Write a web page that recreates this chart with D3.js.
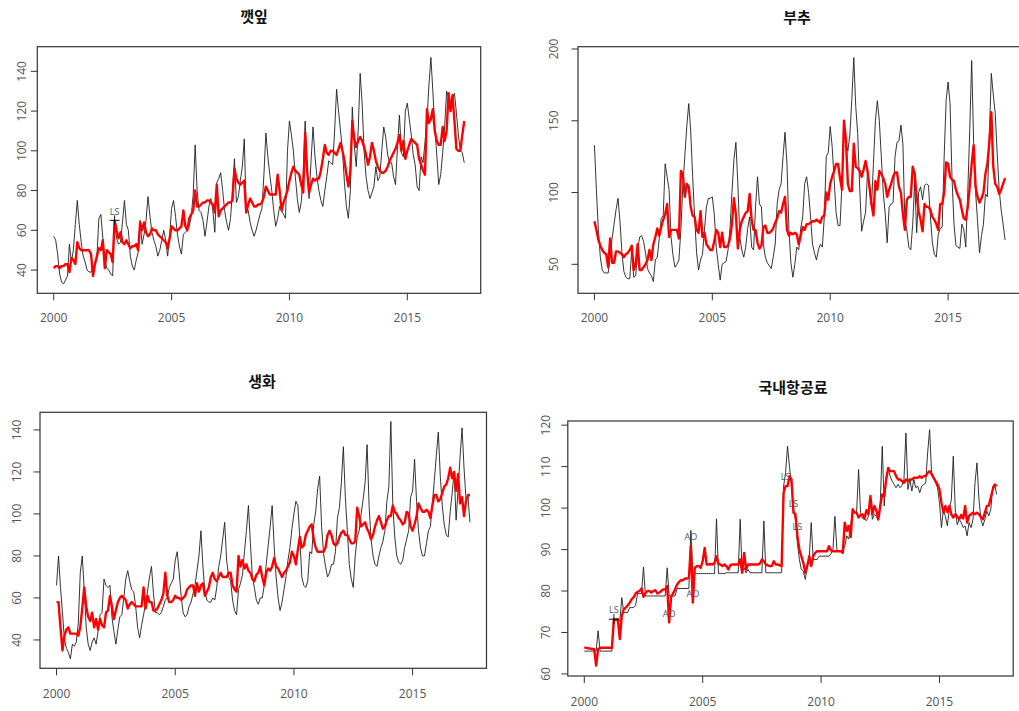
<!DOCTYPE html>
<html>
<head>
<meta charset="utf-8">
<script src="https://cdn.jsdelivr.net/npm/d3@7"></script>
<style>
  body { margin: 0; background: #fff; }
  svg text { font-family: "Open Sans", "Noto Sans", sans-serif; }
</style>
</head>
<body>
<svg id="chart" width="1019" height="711"></svg>
<script>
// Monthly series, January 2000 – June 2017 (one row per year).
const perillaRaw = [
  57, 55, 48, 38, 34, 33, 35, 37, 53, 44, 50, 63,
  75, 63, 54, 47, 44, 40, 39, 39, 41, 43, 47, 66,
  68, 56, 45, 41, 40, 38, 37, 65, 56, 53, 54, 64,
  75, 63, 60, 47, 42, 40, 45, 49, 65, 53, 58, 65,
  77, 67, 59, 55, 52, 47, 50, 55, 60, 55, 47, 57,
  71, 75, 67, 58, 52, 48, 58, 59, 60, 62, 67, 78,
  103, 80, 70, 69, 65, 57, 64, 72, 76, 70, 59, 84,
  86, 89, 80, 70, 64, 60, 66, 80, 96, 74, 77, 85,
  92, 106, 69, 70, 64, 60, 57, 60, 64, 68, 71, 88,
  109, 97, 88, 80, 70, 62, 66, 72, 70, 68, 66, 100,
  115, 108, 100, 87, 76, 69, 74, 88, 115, 90, 76, 95,
  112, 97, 87, 80, 75, 72, 80, 87, 95, 94, 93, 110,
  131, 120, 110, 100, 84, 72, 66, 80, 122, 103, 92, 110,
  139, 124, 100, 87, 80, 76, 79, 82, 92, 85, 87, 100,
  112, 107, 98, 94, 94, 87, 83, 102, 118, 99, 97, 120,
  124, 116, 108, 98, 93, 82, 80, 97, 94, 104, 115, 133,
  147, 130, 112, 98, 83, 88, 99, 112, 130, 127, 122, 126,
  129, 119, 108, 100, 99, 94
];
const perillaAdj = [
  41, 42, 42, 41, 42, 42, 43, 43, 39, 46, 45, 43,
  54, 51, 50, 50, 50, 50, 50, 48, 37, 43, 47, 51,
  50, 55, 41, 50, 49, 48, 44, 65, 60, 56, 59, 54,
  53, 55, 53, 51, 52, 52, 53, 50, 64, 60, 64, 59,
  57, 58, 61, 60, 60, 58, 57, 56, 55, 54, 51, 56,
  62, 61, 60, 60, 61, 62, 70, 62, 60, 66, 68, 70,
  80, 72, 72, 73, 74, 74, 75, 75, 74, 73, 69, 83,
  67, 70, 71, 72, 73, 74, 74, 75, 91, 86, 84, 83,
  84, 85, 69, 73, 76, 74, 72, 72, 73, 73, 74, 77,
  82, 80, 78, 78, 78, 78, 88, 80, 70, 74, 77, 80,
  85, 89, 92, 90, 89, 88, 83, 79, 109, 90, 79, 83,
  86, 85, 86, 86, 90, 96, 103, 99, 98, 100, 100, 99,
  98, 101, 104, 100, 95, 88, 82, 90, 115, 106, 102, 105,
  107, 105, 102, 98, 93, 97, 104, 100, 95, 92, 90, 89,
  89, 90, 92, 95, 97, 99, 101, 104, 108, 100, 105, 96,
  100, 103, 106, 105, 104, 103, 96, 93, 90, 88, 121, 114,
  116, 121, 110, 105, 103, 103, 112, 105, 110, 129, 120, 128,
  115, 101, 100, 100, 108, 115
];

const chivesRaw = [
  133, 102, 74, 55, 46, 44, 44, 44, 55, 68, 78, 88,
  96, 80, 58, 45, 41, 40, 40, 60, 41, 42, 60, 69,
  70, 66, 58, 47, 44, 42, 38, 53, 55, 68, 82, 84,
  120, 111, 102, 69, 56, 48, 50, 53, 74, 105, 125, 146,
  162, 143, 111, 83, 58, 46, 53, 57, 74, 90, 96, 96,
  97, 85, 62, 50, 39, 50, 51, 52, 60, 75, 100, 123,
  135, 106, 69, 60, 55, 62, 75, 83, 62, 60, 90, 111,
  92, 90, 64, 55, 51, 49, 47, 55, 64, 92, 102, 106,
  125, 142, 120, 74, 51, 41, 50, 62, 60, 75, 83, 106,
  111, 100, 83, 64, 58, 53, 60, 64, 62, 83, 125, 128,
  146, 132, 109, 86, 77, 77, 106, 147, 135, 129, 140, 165,
  194, 160, 141, 104, 73, 80, 86, 115, 102, 90, 120, 150,
  164, 150, 125, 100, 85, 65, 90, 92, 93, 125, 135, 136,
  147, 134, 80, 74, 62, 60, 78, 108, 72, 100, 104, 95,
  105, 106, 105, 83, 65, 57, 55, 71, 75, 76, 125, 164,
  177, 162, 110, 78, 63, 62, 61, 78, 74, 62, 100, 143,
  192, 135, 100, 80, 58, 70, 78, 99, 97, 140, 183, 168,
  155, 127, 102, 88, 78, 67
];
const chivesAdj = [
  80, 74, 67, 63, 60, 58, 57, 48, 68, 51, 51, 59,
  59, 58, 57, 55, 57, 58, 60, 63, 46, 50, 64, 46,
  46, 48, 50, 53, 60, 53, 64, 69, 75, 70, 76, 81,
  85, 92, 69, 74, 74, 74, 74, 68, 115, 113, 97, 106,
  104, 90, 84, 83, 74, 72, 87, 69, 72, 64, 62, 60,
  60, 66, 74, 72, 62, 72, 62, 62, 63, 68, 78, 96,
  85, 61, 74, 80, 83, 86, 87, 99, 81, 74, 74, 65,
  61, 63, 76, 77, 72, 72, 73, 75, 79, 82, 87, 86,
  92, 97, 74, 70, 72, 71, 72, 71, 64, 70, 76, 74,
  78, 78, 79, 80, 80, 81, 80, 79, 83, 84, 100, 95,
  106, 111, 115, 120, 120, 110, 102, 150, 137, 106, 101, 101,
  134, 118, 117, 115, 111, 116, 122, 115, 104, 92, 84, 108,
  102, 115, 113, 110, 106, 97, 102, 106, 111, 114, 114, 104,
  100, 85, 74, 95, 97, 97, 118, 113, 97, 87, 81, 73,
  92, 90, 90, 88, 83, 81, 78, 74, 92, 92, 100, 121,
  120, 111, 109, 108, 102, 98, 95, 88, 82, 81, 90, 104,
  120, 133, 104, 97, 93, 96, 100, 113, 120, 135, 156, 118,
  106, 104, 99, 102, 106, 110
];

const flowersRaw = [
  66, 80, 65, 53, 40, 36, 34, 31, 38, 37, 39, 48,
  72, 80, 64, 46, 38, 35, 39, 41, 38, 44, 52, 53,
  69, 66, 65, 66, 51, 44, 38, 45, 51, 52, 60, 69,
  73, 68, 64, 63, 56, 46, 41, 47, 52, 57, 63, 70,
  75, 62, 53, 53, 52, 53, 56, 59, 60, 65, 67, 69,
  78, 82, 72, 61, 53, 51, 52, 56, 58, 62, 66, 73,
  80, 92, 75, 63, 59, 58, 58, 60, 59, 65, 75, 80,
  88, 96, 78, 70, 68, 59, 54, 52, 64, 67, 71, 82,
  92, 104, 86, 70, 65, 59, 57, 60, 60, 66, 76, 85,
  94, 104, 85, 70, 60, 54, 58, 64, 70, 78, 84, 93,
  100, 106, 104, 88, 70, 66, 65, 68, 82, 81, 95, 101,
  112, 118, 94, 81, 75, 70, 72, 76, 76, 82, 98, 103,
  115, 132, 108, 92, 76, 69, 65, 80, 89, 92, 100, 107,
  115, 133, 104, 88, 80, 76, 75, 80, 84, 87, 92, 106,
  113, 144, 104, 89, 80, 77, 76, 78, 84, 88, 92, 108,
  111, 126, 106, 92, 84, 80, 80, 86, 92, 94, 105, 116,
  128, 139, 118, 104, 95, 90, 89, 101, 110, 120, 97, 112,
  127, 141, 122, 107, 108, 96
];
const flowersAdj = [
  58, 58, 46, 35, 42, 45, 46, 43, 43, 43, 43, 42,
  46, 55, 65, 56, 51, 49, 53, 46, 50, 45, 50, 47,
  46, 53, 54, 61, 56, 50, 54, 58, 60, 61, 60, 59,
  55, 57, 58, 57, 56, 56, 56, 56, 65, 55, 61, 58,
  58, 54, 54, 55, 57, 59, 62, 72, 61, 58, 58, 59,
  61, 60, 60, 59, 60, 61, 64, 65, 66, 66, 61, 67,
  63, 66, 67, 61, 63, 65, 70, 72, 69, 68, 70, 72,
  70, 70, 70, 72, 72, 66, 64, 63, 80, 75, 78, 74,
  76, 73, 72, 69, 68, 71, 72, 75, 70, 66, 72, 74,
  73, 75, 79, 75, 74, 72, 70, 72, 73, 75, 77, 82,
  80, 76, 83, 89, 84, 85, 90, 92, 94, 95, 88, 84,
  82, 82, 82, 82, 84, 90, 92, 90, 86, 85, 86, 89,
  91, 92, 90, 90, 88, 86, 86, 87, 103, 99, 94, 95,
  96, 93, 91, 88, 90, 94, 97, 99, 96, 93, 94, 97,
  99, 99, 104, 101, 100, 98, 97, 95, 96, 101, 100, 94,
  92, 95, 99, 105, 103, 101, 101, 102, 101, 98, 104, 109,
  109, 106, 107, 110, 113, 114, 117, 122, 117, 120, 111, 119,
  105, 108, 99, 106, 109, 109
];

const airfareRaw = [
  65.5, 65.5, 65.5, 65.5, 65.5, 65.5, 65.5, 70.4, 65.5, 65.5, 65.5, 65.5,
  65.5, 65.5, 65.5, 73.2, 73.2, 73.2, 72.8, 78.4, 74.8, 74.8, 74.8, 76,
  76, 76, 76.5, 79.4, 79.4, 79.4, 85.8, 78.8, 78.8, 78.8, 78.8, 78.8,
  78.8, 78.8, 78.8, 78.8, 78.8, 78.8, 85.6, 78.8, 78.8, 78.8, 78.8, 80.6,
  80.6, 80.6, 80.6, 80.6, 80.6, 80.6, 94.6, 84.2, 84.2, 84.2, 84.2, 84.2,
  84.2, 84.2, 84.2, 84.2, 84.2, 84.2, 84.2, 97.4, 84.2, 84.2, 84.2, 84.2,
  84.4, 84.4, 84.4, 84.4, 84.4, 84.4, 84.4, 97.3, 84.4, 85.6, 84.4, 85.2,
  84.4, 84.4, 84.4, 84.4, 84.4, 84.4, 84.4, 96.9, 84.4, 84.4, 84.4, 84.4,
  84.4, 84.4, 84.4, 84.4, 84.4, 105.3, 108.5, 114.9, 110, 105.3, 99.7, 97.3,
  91.6, 87.6, 85.2, 84.8, 82.8, 86, 88, 96.5, 87.6, 87.6, 87.6, 88.4,
  88.4, 88.4, 88.4, 88.4, 88.4, 89, 90, 98, 90, 89.6, 89.6, 89.6,
  90.8, 93.3, 92.5, 95.7, 99.7, 99, 98.9, 109.3, 98.9, 97.5, 97.3, 97,
  98, 102.1, 97.3, 98.5, 98, 97, 101.3, 114.9, 100.5, 107.7, 109.3, 107.7,
  106.5, 105.7, 104.9, 105.7, 104.9, 105.5, 106.9, 118.1, 104.5, 106.9, 104.1, 106.9,
  104.9, 105.3, 103.7, 105.3, 105.7, 106, 113.3, 118.9, 108.5, 107.7, 106.1, 104.9,
  101.3, 95.3, 99.7, 98, 95.7, 99.7, 102, 112.5, 99.7, 96, 97.3, 96.5,
  95.3, 95.7, 93.3, 96.5, 95.3, 97.3, 106.1, 110.9, 102.1, 97.3, 95.7, 97.3,
  99.3, 98.1, 99.7, 105.3, 105.7, 103.3
];
const airfareAdj = [
  66.4, 66.3, 66.2, 66.1, 66, 66, 62, 66, 66.3, 66.3, 66.3, 66.3,
  66.3, 66.3, 66.3, 73.2, 73, 73.2, 68.4, 74, 75.6, 76, 76.5, 77.2,
  78, 78.5, 79.4, 79.8, 80, 80.6, 78.6, 79.5, 80, 80, 79.6, 80,
  80.2, 79.4, 79.6, 80, 80.4, 80.4, 81.2, 72.4, 78.6, 79.4, 80.4, 81.5,
  82.2, 82.6, 82.6, 83, 83, 83.2, 90.8, 77.2, 85.6, 86, 86, 85.6,
  87.2, 90.4, 86.4, 86.4, 86.5, 86.4, 86.8, 88.4, 86.5, 86.4, 86, 86.4,
  86, 85.2, 86.2, 86.4, 86.4, 86.4, 86.4, 87.6, 84.4, 89.2, 85.2, 86.4,
  86.4, 86.4, 86.4, 86.4, 86.4, 86.6, 87.6, 87.2, 86.4, 86.2, 86, 86,
  87.2, 86.4, 86.4, 86.2, 86, 103.7, 105.3, 105.3, 107.7, 106.9, 98.9, 98.5,
  93.3, 90, 88.4, 86.8, 84.4, 86, 88.4, 86, 88.4, 89.2, 89.6, 89.6,
  89.6, 89.6, 89.6, 89.6, 90.8, 89.8, 89.6, 89.6, 89.6, 89.6, 89.6, 89.2,
  96.5, 94.5, 95.7, 93, 99.7, 98.9, 98.9, 97.7, 98.3, 98.5, 97.5, 99.5,
  98.5, 102.9, 98.5, 100.5, 99.5, 97.3, 100.5, 103.3, 102.9, 106.9, 109.7, 108.9,
  108.9, 108.9, 107.7, 106.9, 106.9, 106.5, 106.1, 106.9, 106.5, 106.9, 106.9, 107.3,
  107.3, 107.3, 107.7, 107.3, 107.7, 107.7, 108.5, 108.9, 108.2, 107.3, 106.5, 105.7,
  104.5, 101.3, 98.9, 100.5, 99, 100.5, 98.5, 97.7, 98.5, 98, 97.3, 98.3,
  97.5, 100.5, 96.5, 98.1, 98.5, 98.9, 98.5, 98.9, 98.5, 97.8, 97.3, 98.9,
  100.5, 100.6, 102.5, 104.5, 105.7, 105.3
];

// Outliers found by the seasonal adjustment (month index from Jan 2000).
const perillaOutliers = [{ month: 31, type: "LS", cross: true }];
const airfareOutliers = [
  { month: 15, type: "LS", cross: true },
  { month: 43, type: "AO" },
  { month: 54, type: "AO" },
  { month: 55, type: "AO" },
  { month: 102, type: "LS" },
  { month: 106, type: "LS" },
  { month: 108, type: "LS" }
];

const xTicks = [2000, 2005, 2010, 2015];
const perillaTicks = [40, 60, 80, 100, 120, 140];
const chivesTicks = [50, 100, 150, 200];
const flowersTicks = [40, 60, 80, 100, 120, 140];
const airfareTicks = [60, 70, 80, 90, 100, 110, 120];

const startYear = 2000;
const lastMonth = perillaRaw.length - 1;
const span = lastMonth / 12;
const xDomain = [startYear - 0.04 * span, startYear + span + 0.04 * span];

// Plot regions (pixels) and value ranges for the 2x2 layout.
const panels = [
  { title: "깻잎", raw: perillaRaw, adj: perillaAdj, ticks: perillaTicks, outliers: perillaOutliers,
    yDomain: [28.3, 152.4], box: { l: 37.3, r: 480.7, t: 46.7, b: 293.3 },
    titleX: 254, titleY: 17, yLabGap: 15.6, xLabGap: 24 },
  { title: "부추", raw: chivesRaw, adj: chivesAdj, ticks: chivesTicks, outliers: [],
    yDomain: [29.8, 201.6], box: { l: 578, r: 1021.5, t: 46.7, b: 293.3 },
    titleX: 797, titleY: 18, yLabGap: 24, xLabGap: 24 },
  { title: "생화", raw: flowersRaw, adj: flowersAdj, ticks: flowersTicks, outliers: [],
    yDomain: [26.5, 148.4], box: { l: 40, r: 486.5, t: 412.3, b: 668.3 },
    titleX: 262, titleY: 382, yLabGap: 23, xLabGap: 25.7 },
  { title: "국내항공료", raw: airfareRaw, adj: airfareAdj, ticks: airfareTicks, outliers: airfareOutliers,
    yDomain: [59.5, 121], box: { l: 567.8, r: 1013.2, t: 421, b: 676 },
    titleX: 793, titleY: 388, yLabGap: 22, xLabGap: 25.7 }
];

const svg = d3.select("#chart");
const axisColor = "#333";
const labelColor = "#555";

panels.forEach(p => {
  const g = svg.append("g");
  const x = d3.scaleLinear().domain(xDomain).range([p.box.l, p.box.r]);
  const y = d3.scaleLinear().domain(p.yDomain).range([p.box.b, p.box.t]);
  const tx = i => x(startYear + i / 12);

  // title
  g.append("text")
    .attr("x", p.titleX).attr("y", p.titleY).attr("dy", "0.35em")
    .attr("text-anchor", "middle")
    .style("font-family", "'Noto Sans CJK KR', sans-serif")
    .style("font-weight", 700).style("font-size", "15px").attr("fill", "#111")
    .text(p.title);

  // x axis ticks and labels
  const xa = g.append("g");
  xa.selectAll("line").data(xTicks).join("line")
    .attr("x1", d => x(d)).attr("x2", d => x(d))
    .attr("y1", p.box.b).attr("y2", p.box.b + 7)
    .attr("stroke", axisColor).attr("stroke-width", 1);
  xa.selectAll("text").data(xTicks).join("text")
    .attr("x", d => x(d)).attr("y", p.box.b + p.xLabGap).attr("dy", "0.35em")
    .attr("text-anchor", "middle").attr("fill", labelColor).style("font-size", "12px")
    .text(d => d);

  // y axis ticks and rotated labels
  const ya = g.append("g");
  ya.selectAll("line").data(p.ticks).join("line")
    .attr("x1", p.box.l - 6.5).attr("x2", p.box.l)
    .attr("y1", d => y(d)).attr("y2", d => y(d))
    .attr("stroke", axisColor).attr("stroke-width", 1);
  ya.selectAll("text").data(p.ticks).join("text")
    .attr("transform", d => `translate(${p.box.l - p.yLabGap},${y(d)}) rotate(-90)`)
    .attr("dy", "0.35em").attr("text-anchor", "middle")
    .attr("fill", labelColor).style("font-size", "12px")
    .text(d => d);

  // frame
  g.append("rect")
    .attr("x", p.box.l).attr("y", p.box.t)
    .attr("width", p.box.r - p.box.l).attr("height", p.box.b - p.box.t)
    .attr("fill", "none").attr("stroke", axisColor).attr("stroke-width", 1.2);

  const line = d3.line().x((d, i) => tx(i)).y(d => y(d));

  // original series
  g.append("path").datum(p.raw).attr("d", line)
    .attr("fill", "none").attr("stroke", "#1e1e1e").attr("stroke-width", 0.9)
    .attr("stroke-linejoin", "round");

  // seasonally adjusted series
  g.append("path").datum(p.adj).attr("d", line)
    .attr("fill", "none").attr("stroke", "#ff0000").attr("stroke-width", 2.4)
    .attr("stroke-linejoin", "round");

  // outlier markers
  p.outliers.forEach(o => {
    const px = tx(o.month), py = y(p.adj[o.month]);
    if (o.cross) {
      g.append("path")
        .attr("d", `M${px - 5},${py}H${px + 5}M${px},${py - 5}V${py + 5}`)
        .attr("stroke", "#111").attr("stroke-width", 1);
    }
    g.append("text")
      .attr("x", px).attr("y", py - 9).attr("dy", "0.35em")
      .attr("text-anchor", "middle").attr("fill", "#555")
      .style("font-size", "9px")
      .text(o.type);
  });
});
</script>
</body>
</html>
